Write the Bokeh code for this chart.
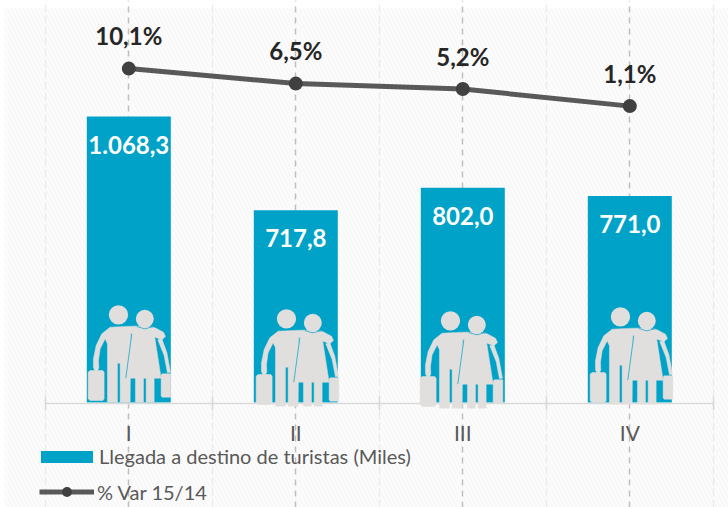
from bokeh.plotting import figure
from bokeh.models import (Range1d, LinearAxis, FixedTicker, Grid, BoxAnnotation, Legend, LegendItem,
                          ColumnDataSource)
from bokeh.core.properties import value
from bokeh.embed import file_html
from bokeh.resources import INLINE

quarters = ["I", "II", "III", "IV"]
positions = [1, 2, 3, 4]
arrivals = [1068.3, 717.8, 802.0, 771.0]
arrival_labels = ["1.068,3", "717,8", "802,0", "771,0"]
pct_var = [10.1, 6.5, 5.2, 1.1]
pct_labels = ["10,1%", "6,5%", "5,2%", "1,1%"]
boundaries = [0.5, 1.5, 2.5, 3.5, 4.5]
series_names = ["Llegada a destino de turistas (Miles)", "% Var 15/14"]

FONT = "Lato"
W, H = 728, 507
PX_X = 167.0            # px per category
PX_Y = 0.2677           # px per thousand
BASE_PX = 402.0         # baseline, px from top of figure
CENTER1_PX = 128.3      # first category centre, px from left of figure
PCT_PX = 4.17
PCT_ZERO_PX = 110.2

x_range = Range1d(1 - CENTER1_PX / PX_X, 1 + (W - CENTER1_PX) / PX_X)
y_range = Range1d((BASE_PX - H) / PX_Y, BASE_PX / PX_Y)

p = figure(width=W, height=H, x_range=x_range, y_range=y_range, output_backend="svg",
           toolbar_location=None, x_axis_location=None, y_axis_location=None,
           min_border=0, outline_line_color=None, background_fill_color="white",
           border_fill_color="white")
p.grid.visible = False
p.extra_y_ranges = {"pct": Range1d((PCT_ZERO_PX - H) / PCT_PX, PCT_ZERO_PX / PCT_PX)}

p.add_layout(BoxAnnotation(left=x_range.start + 4 / PX_X, right=x_range.end, bottom=y_range.start,
                           top=y_range.end - 8 / PX_Y,
                           fill_color=None, line_color=None, hatch_pattern="left_diagonal_line",
                           hatch_color="#f8f8f8", hatch_weight=2.5, hatch_scale=8, level="underlay"))

ticker = FixedTicker(ticks=positions, minor_ticks=boundaries)
top_val = 1408
grid = Grid(dimension=0, ticker=ticker, bounds=(0, top_val), grid_line_color="#bfbfbf", grid_line_width=1.5,
            grid_line_dash="6 5", minor_grid_line_color="#ececec", minor_grid_line_width=1.5,
            minor_grid_line_dash="8 3", level="underlay")
p.add_layout(grid)

axis = LinearAxis(ticker=ticker, fixed_location=-3.5, bounds=(0.5, 4.5),
                  major_label_overrides={k: v for k, v in zip(positions, quarters)},
                  axis_line_color="#d9d9d9", axis_line_width=1.5,
                  major_tick_line_color=None, major_tick_in=0, major_tick_out=0,
                  minor_tick_line_color="#d9d9d9", minor_tick_line_width=1.5,
                  minor_tick_in=7, minor_tick_out=7,
                  major_label_standoff=10, major_label_text_font=FONT,
                  major_label_text_font_size="21px", major_label_text_color="#595959")
p.add_layout(axis, "below")

src = ColumnDataSource(dict(x=positions, v=arrivals, lab=arrival_labels, pct=pct_var, plab=pct_labels))

bars = p.vbar(x="x", top="v", bottom=0, width=84 / PX_X, source=src, fill_color="#00a3c7", line_color=None)

# pictogram of the couple, in px relative to (bar centre, baseline)
ICON_DX = [0, 1, -2, 1]
ICON_DY = [0, 4, 6, 2]
Z = lambda pts: [((a - 206) / 3, (366 - b) / 3) for a, b in pts]
man = Z([(100, 262), (100, 235), (108, 195), (125, 160), (150, 140), (215, 137), (250, 137), (285, 142), (310, 155),
         (316, 168), (305, 178), (285, 170), (260, 158), (212, 160), (210, 365), (180, 365), (180, 248), (172, 248),
         (172, 365), (142, 365), (142, 190), (135, 175), (120, 205), (115, 240), (116, 262), (112, 272), (105, 272)])
case_l = Z([(84, 275), (90, 270), (128, 270), (132, 275), (132, 355), (128, 360), (90, 360), (84, 355)])
case_r = Z([(303, 284), (306, 280), (332, 280), (332, 350), (306, 350), (303, 346)])
dress = Z([(215, 160), (235, 145), (272, 145), (283, 165), (303, 293), (197, 293)])
arm = Z([(293, 178), (305, 175), (320, 215), (331, 275), (322, 277), (312, 225)])
leg1 = Z([(226, 290), (226, 365), (250, 365), (250, 290)])
leg2 = Z([(258, 290), (258, 365), (282, 365), (282, 290)])
blue_lines = [Z([(215, 160), (197, 293)]), Z([(230, 138), (254, 145), (280, 138)])]
heads = [Z([(175, 103)])[0] + (29 * 2 / 3,), Z([(254, 115)])[0] + (27 * 2 / 3,)]
GREY = "#e0dfdd"

for xc, dx, dy in zip(positions, ICON_DX, ICON_DY):
    tx = lambda pts: [xc + (a + dx) / PX_X for a, b in pts]
    ty = lambda pts: [(b - dy) / PX_Y for a, b in pts]
    shapes = [man, case_l, case_r, arm, leg1, leg2, dress]
    p.patches([tx(s) for s in shapes], [ty(s) for s in shapes], fill_color=GREY, line_color=GREY,
              line_width=0.5, level="overlay")
    p.multi_line([tx(s) for s in blue_lines], [ty(s) for s in blue_lines], line_color="#3fb4d0", line_width=1,
                 level="overlay")
    p.scatter([xc + (h[0] + dx) / PX_X for h in heads], [(h[1] - dy) / PX_Y for h in heads],
              size=[h[2] for h in heads], marker="circle", fill_color=GREY, line_color=None, level="overlay")

line = p.line("x", "pct", source=src, y_range_name="pct", line_color="#595959", line_width=5)
dots = p.scatter("x", "pct", source=src, y_range_name="pct", size=14, marker="circle",
                 fill_color="#404040", line_color=None)

p.text("x", "v", text="lab", source=src, text_align="center", text_baseline="middle", y_offset=28,
       text_color="white", text_font=value(FONT), text_font_style="bold", text_font_size="24px")
p.text("x", "pct", text="plab", source=src, y_range_name="pct", text_align="center", text_baseline="middle",
       y_offset=-33, text_color="#262626", text_font=value(FONT), text_font_style="bold", text_font_size="24px")

common = dict(orientation="vertical", label_text_font=FONT, label_text_font_size="20px", label_text_color="#595959",
              background_fill_alpha=0, border_line_color=None, margin=0, padding=0)
p.add_layout(Legend(items=[LegendItem(label=series_names[0], renderers=[bars])], location=(34, 39),
                    glyph_width=65, glyph_height=15, label_standoff=0, label_height=24, **common))
p.add_layout(Legend(items=[LegendItem(label=series_names[1], renderers=[line, dots])], location=(39, 3),
                    glyph_width=55, glyph_height=25, label_standoff=3, label_height=24, **common))

open("out.html", "w").write(file_html(p, INLINE))
